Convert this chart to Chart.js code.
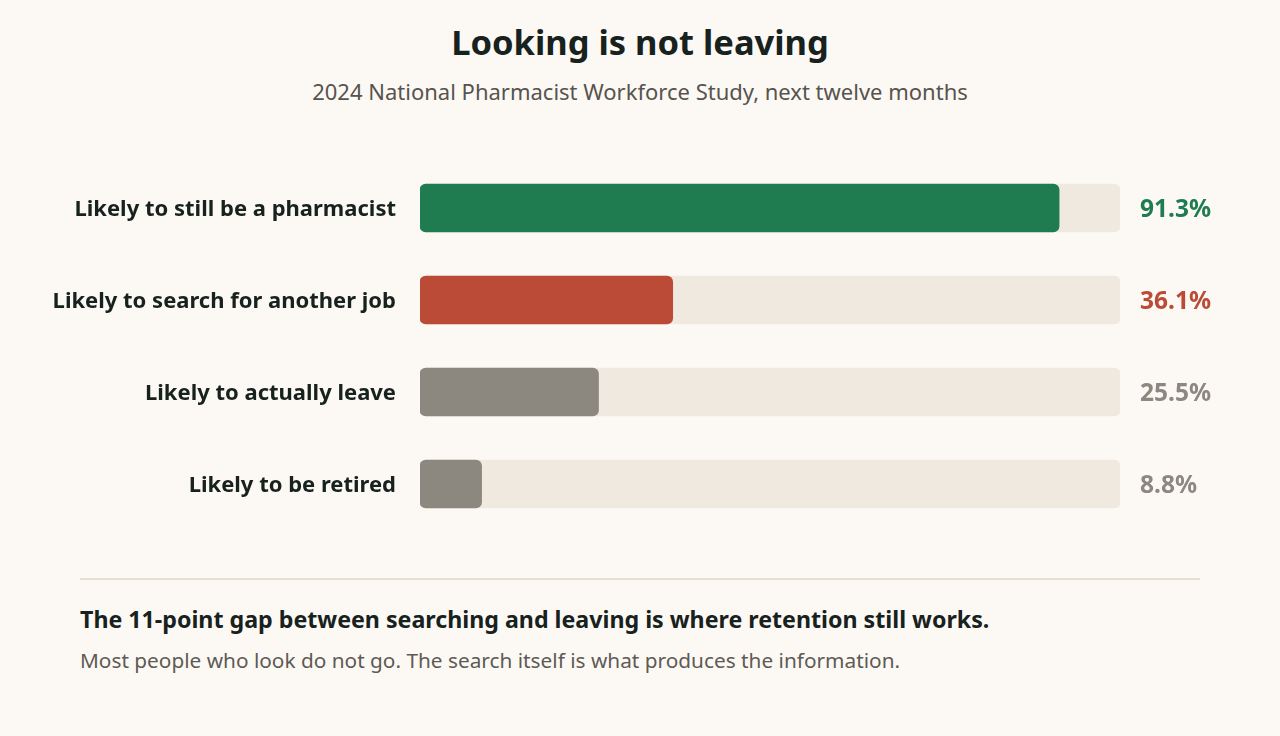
<!DOCTYPE html>
<html>
<head>
<meta charset="utf-8">
<script src="https://cdn.jsdelivr.net/npm/chart.js@4.4.1/dist/chart.umd.min.js"></script>
<style>
  html, body { margin: 0; padding: 0; background: #fcf9f4; }
  body { width: 1280px; height: 736px; position: relative; overflow: hidden; font-family: "Noto Sans", sans-serif; color: #17211d; }
  .line { position: absolute; left: 0; width: 1280px; text-align: center; white-space: nowrap; }
  #title { top: 20px; height: 44px; line-height: 44px; font-size: 34.5px; font-weight: 700; }
  #subtitle { top: 77px; height: 28px; line-height: 28px; font-size: 22px; color: #57534e; }
  #myChart { position: absolute; left: 0; top: 162px; }
  #rule { position: absolute; left: 80px; top: 578px; width: 1120px; height: 2px; background: #e6dfd2; }
  #takeaway { position: absolute; left: 80px; top: 604px; line-height: 30px; font-size: 23.2px; font-weight: 700; white-space: nowrap; }
  #note { position: absolute; left: 80px; top: 647px; line-height: 26px; font-size: 20.8px; color: #5f5a54; white-space: nowrap; }
</style>
</head>
<body>
<div class="line" id="title">Looking is not leaving</div>
<div class="line" id="subtitle">2024 National Pharmacist Workforce Study, next twelve months</div>
<canvas id="myChart" width="1280" height="368"></canvas>
<div id="rule"></div>
<div id="takeaway">The 11-point gap between searching and leaving is where retention still works.</div>
<div id="note">Most people who look do not go. The search itself is what produces the information.</div>
<script>
// chart data
const categories = ['Likely to still be a pharmacist', 'Likely to search for another job', 'Likely to actually leave', 'Likely to be retired'];
const shares = [91.3, 36.1, 25.5, 8.8];
const trackMax = [100, 100, 100, 100];

const barColors = ['#1f7b50', '#bb4a37', '#8c877f', '#8c877f'];
const trackColor = '#f0e9e0';

// value labels to the right of the track
const valueLabels = {
  id: 'valueLabels',
  afterDatasetsDraw(chart) {
    const ctx = chart.ctx;
    const meta = chart.getDatasetMeta(0);
    const x = chart.chartArea.right + 20;
    ctx.save();
    ctx.font = '700 24.5px "Noto Sans"';
    ctx.textAlign = 'left';
    ctx.textBaseline = 'middle';
    meta.data.forEach((bar, i) => {
      ctx.fillStyle = barColors[i];
      ctx.fillText(shares[i].toFixed(1) + '%', x, bar.y + 2);
    });
    ctx.restore();
  }
};

document.addEventListener("DOMContentLoaded", function() {
  const ctx = document.getElementById('myChart');
  new Chart(ctx, {
    type: 'bar',
    data: {
      labels: categories,
      datasets: [{
        label: 'Share',
        data: shares,
        backgroundColor: barColors,
        borderRadius: 6,
        borderSkipped: false,
        barThickness: 48,
        grouped: false,
        order: 1
      }, {
        label: 'Track',
        data: trackMax,
        backgroundColor: trackColor,
        borderRadius: 6,
        borderSkipped: false,
        barThickness: 48,
        grouped: false,
        order: 2
      }]
    },
    options: {
      indexAxis: 'y',
      responsive: false,
      animation: false,
      layout: { padding: { left: 0, right: 160, top: 0, bottom: 0 } },
      scales: {
        x: {
          min: 0,
          max: 100,
          display: false
        },
        y: {
          grid: { display: false, drawTicks: false },
          border: { display: false },
          ticks: {
            color: '#17211d',
            padding: 24,
            labelOffset: 2,
            font: { family: 'Noto Sans', size: 22, weight: '700' }
          },
          afterFit(scale) {
            scale.width = 420;
            // categories are offset, so no room needed above/below for labels
            scale.paddingTop = 0;
            scale.paddingBottom = 0;
          }
        }
      },
      plugins: {
        legend: { display: false },
        tooltip: { enabled: false }
      }
    },
    plugins: [valueLabels]
  });
});
</script>
</body>
</html>
